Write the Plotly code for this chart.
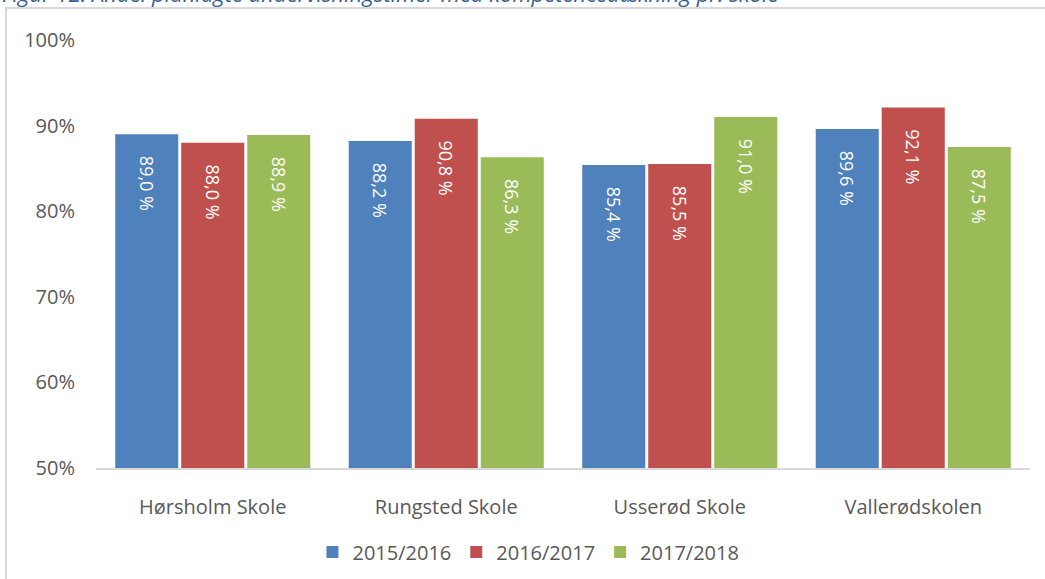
import plotly.graph_objects as go

# Data
schools = ["Hørsholm Skole", "Rungsted Skole", "Usserød Skole", "Vallerødskolen"]
years = ["2015/2016", "2016/2017", "2017/2018"]
share_2015 = [0.890, 0.882, 0.854, 0.896]
share_2016 = [0.880, 0.908, 0.855, 0.921]
share_2017 = [0.889, 0.863, 0.910, 0.875]
y_ticks = [0.5, 0.6, 0.7, 0.8, 0.9, 1.0]

colors = ["#4F81BD", "#C0504D", "#9BBB59"]
FONT = "Open Sans"

fig = go.Figure()
for name, vals, col in zip(years, [share_2015, share_2016, share_2017], colors):
    fig.add_trace(go.Bar(
        x=schools,
        y=vals,
        name=name,
        marker=dict(color=col, line=dict(width=0)),
        text=["    " + f"{v * 100:.1f}".replace(".", ",") + " %" for v in vals],
        textposition="inside",
        insidetextanchor="end",
        textangle=90,
        textfont=dict(family=FONT, size=18, color="white"),
        cliponaxis=False,
    ))

fig.update_layout(
    width=1045,
    height=579,
    barmode="group",
    bargap=0.152,
    bargroupgap=0.045,
    plot_bgcolor="white",
    paper_bgcolor="white",
    margin=dict(l=96, r=15, t=40, b=111, autoexpand=False),
    font=dict(family=FONT, color="#595959", size=20),
    showlegend=True,
    legend=dict(
        orientation="h",
        x=0.463, xanchor="center",
        y=-0.196, yanchor="middle",
        font=dict(size=20, color="#595959"),
        itemwidth=30,
        traceorder="normal",
    ),
    uniformtext=dict(minsize=18, mode="show"),
)

fig.update_yaxes(
    range=[0.5, 1.0],
    tickvals=y_ticks,
    tickformat=".0%",
    showgrid=False,
    zeroline=False,
    showline=False,
    ticks="",
    automargin=False,
    ticklabelstandoff=20,
    tickfont=dict(size=20, color="#595959"),
)
fig.update_xaxes(
    showgrid=False,
    showline=True,
    linecolor="#D9D9D9",
    linewidth=2,
    ticks="",
    automargin=False,
    ticklabelstandoff=20,
    tickfont=dict(size=20, color="#595959"),
)

# figure caption above the chart box (only its lower part is in view)
fig.add_annotation(
    text="Figur 12: Andel planlagte undervisningstimer med kompetencedækning pr. skole",
    xref="paper", yref="paper",
    x=-0.1028, y=1.071,
    xanchor="left", yanchor="bottom",
    showarrow=False,
    font=dict(family=FONT, size=22, color="#3A5E94", style="italic"),
)

# light chart border (left and top edges visible)
fig.add_shape(type="line", xref="paper", yref="paper",
              x0=-0.0964, x1=-0.0964, y0=1.0748, y1=-0.35,
              line=dict(color="#D9D9D9", width=2))
fig.add_shape(type="line", xref="paper", yref="paper",
              x0=-0.0975, x1=1.03, y0=1.0748, y1=1.0748,
              line=dict(color="#D9D9D9", width=2))

# drop the default body margin so the figure sits at the page corner
fig.write_html("out.html", config={"displayModeBar": False},
               post_script="document.body.style.margin = '0';")
